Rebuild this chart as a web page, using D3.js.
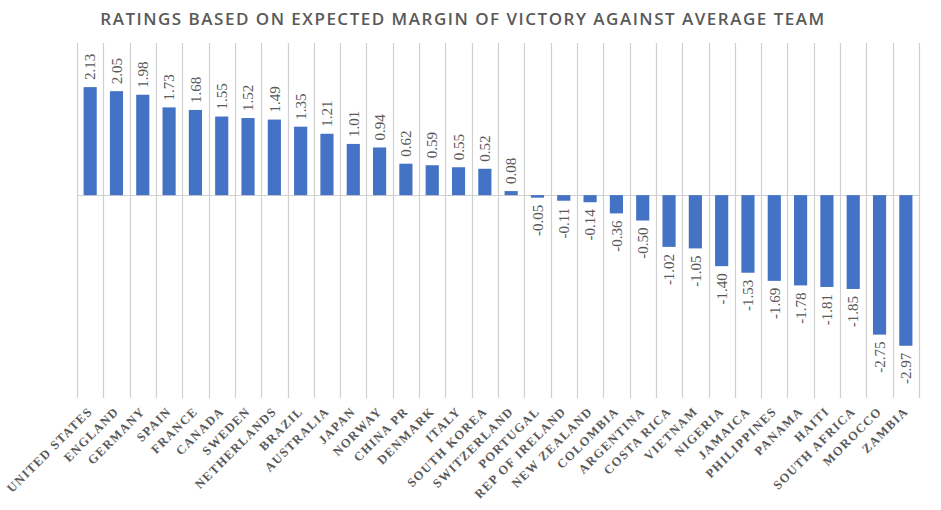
<!DOCTYPE html>
<html>
<head>
<meta charset="utf-8">
<script src="https://cdn.jsdelivr.net/npm/d3@7"></script>
<style>
  body { margin: 0; background: #fff; }
</style>
</head>
<body>
<script>
// team names, left to right
var teams = ["UNITED STATES", "ENGLAND", "GERMANY", "SPAIN", "FRANCE", "CANADA",
  "SWEDEN", "NETHERLANDS", "BRAZIL", "AUSTRALIA", "JAPAN", "NORWAY", "CHINA PR",
  "DENMARK", "ITALY", "SOUTH KOREA", "SWITZERLAND", "PORTUGAL", "REP OF IRELAND",
  "NEW ZEALAND", "COLOMBIA", "ARGENTINA", "COSTA RICA", "VIETNAM", "NIGERIA",
  "JAMAICA", "PHILIPPINES", "PANAMA", "HAITI", "SOUTH AFRICA", "MOROCCO", "ZAMBIA"];

// expected margin vs average team
var ratings = [2.13, 2.05, 1.98, 1.73, 1.68, 1.55, 1.52, 1.49, 1.35, 1.21, 1.01, 0.94,
  0.62, 0.59, 0.55, 0.52, 0.08, -0.05, -0.11, -0.14, -0.36, -0.50, -1.02, -1.05,
  -1.40, -1.53, -1.69, -1.78, -1.81, -1.85, -2.75, -2.97];

var yDomain = [-4, 3];

var width = 941, height = 510;
var margin = {top: 43, right: 22, bottom: 112, left: 77};

var svg = d3.select("body").append("svg")
  .attr("width", width)
  .attr("height", height);

svg.append("text")
  .attr("x", 463)
  .attr("y", 25)
  .attr("text-anchor", "middle")
  .attr("font-family", "Open Sans")
  .attr("font-weight", 600)
  .attr("font-size", 17)
  .attr("letter-spacing", 1.5)
  .attr("fill", "#595959")
  .text("RATINGS BASED ON EXPECTED MARGIN OF VICTORY AGAINST AVERAGE TEAM");

var x = d3.scaleBand()
  .domain(teams)
  .range([margin.left, width - margin.right])
  .paddingInner(0.5)
  .paddingOuter(0.25);

var y = d3.scaleLinear()
  .domain(yDomain)
  .range([height - margin.bottom, margin.top]);

var gap = x.step() - x.bandwidth();

// vertical gridlines between categories
var edges = teams.map(t => x(t) - gap / 2);
edges.push(width - margin.right);
svg.append("g")
  .attr("class", "grid")
  .selectAll("line")
  .data(edges)
  .enter()
  .append("line")
  .attr("x1", d => Math.round(d) + 0.5)
  .attr("x2", d => Math.round(d) + 0.5)
  .attr("y1", y(yDomain[1]))
  .attr("y2", y(yDomain[0]))
  .attr("stroke", "#d0d0d0")
  .attr("stroke-width", 1.2);

// zero line
svg.append("line")
  .attr("x1", margin.left)
  .attr("x2", width - margin.right)
  .attr("y1", Math.round(y(0)) + 0.5)
  .attr("y2", Math.round(y(0)) + 0.5)
  .attr("stroke", "#d0d0d0")
  .attr("stroke-width", 1.2);

svg.append("g")
  .selectAll("rect")
  .data(ratings)
  .enter()
  .append("rect")
  .attr("x", (d, i) => x(teams[i]))
  .attr("width", x.bandwidth())
  .attr("y", d => y(Math.max(0, d)))
  .attr("height", d => Math.abs(y(d) - y(0)))
  .attr("fill", "#4472c4");

// value labels, turned upright
svg.append("g")
  .selectAll("text")
  .data(ratings)
  .enter()
  .append("text")
  .attr("transform", (d, i) => {
    var cx = x(teams[i]) + x.bandwidth() / 2;
    var cy = d >= 0 ? y(d) - 7 : y(d) + 7;
    return `translate(${cx},${cy}) rotate(-90)`;
  })
  .attr("dy", "0.35em")
  .attr("text-anchor", d => d >= 0 ? "start" : "end")
  .attr("font-family", "Liberation Serif")
  .attr("font-size", 15)
  .attr("fill", "#595959")
  .text(d => d.toFixed(2));

// category labels at 45 degrees
svg.append("g")
  .selectAll("text")
  .data(teams)
  .enter()
  .append("text")
  .attr("transform", d => `translate(${x(d) + x.bandwidth() / 2},${height - margin.bottom + 11}) rotate(-45)`)
  .attr("dy", "0.35em")
  .attr("text-anchor", "end")
  .attr("font-family", "Liberation Serif")
  .attr("font-weight", "bold")
  .attr("font-size", 12.5)
  .attr("letter-spacing", 1.3)
  .attr("fill", "#595959")
  .text(d => d);
</script>
</body>
</html>
